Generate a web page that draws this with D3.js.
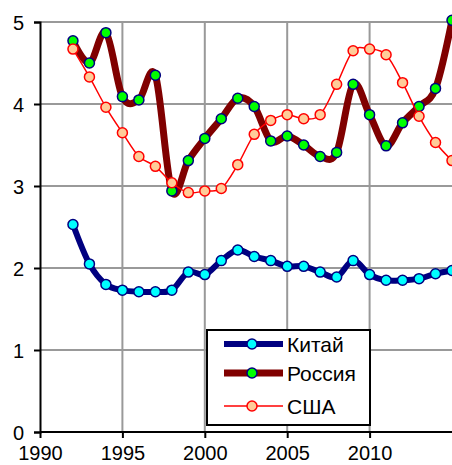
<!DOCTYPE html>
<meta charset="utf-8">
<style>
body { margin: 0; background: #fff; }
text { font-family: 'Liberation Sans', Arial, sans-serif; }
</style>
<body>
<svg width="452" height="465"></svg>
<script src="https://d3js.org/d3.v7.min.js"></script>
<script>
// years 1992..2015
var years = d3.range(1992, 2016);

var china = [2.53, 2.05, 1.80, 1.73, 1.71, 1.71, 1.73, 1.95, 1.92, 2.09, 2.22, 2.14,
             2.09, 2.02, 2.02, 1.95, 1.89, 2.09, 1.92, 1.85, 1.85, 1.87, 1.93, 1.97];
var russia = [4.77, 4.50, 4.87, 4.09, 4.05, 4.35, 2.94, 3.31, 3.58, 3.82, 4.07, 3.97,
              3.55, 3.61, 3.50, 3.36, 3.41, 4.24, 3.87, 3.49, 3.77, 3.97, 4.19, 5.02];
var usa = [4.67, 4.33, 3.96, 3.65, 3.36, 3.24, 3.04, 2.92, 2.94, 2.97, 3.26, 3.63,
           3.80, 3.87, 3.82, 3.87, 4.24, 4.65, 4.67, 4.60, 4.26, 3.85, 3.53, 3.31];

var seriesNames = ["Китай", "Россия", "США"];
var xTicks = [1990, 1995, 2000, 2005, 2010];
var yTicks = [0, 1, 2, 3, 4, 5];

var svg = d3.select("svg");

var x = d3.scaleLinear().domain([1990, 2015]).range([40, 452]);
var y = d3.scaleLinear().domain([0, 5]).range([432, 22]);

// grid
svg.append("g").selectAll("line.v")
    .data(xTicks.slice(1))
  .enter().append("line")
    .attr("x1", function(d) { return x(d); })
    .attr("x2", function(d) { return x(d); })
    .attr("y1", y(5)).attr("y2", y(0))
    .attr("stroke", "#999").attr("stroke-width", 2);

svg.append("g").selectAll("line.h")
    .data(yTicks.slice(1))
  .enter().append("line")
    .attr("x1", x(1990)).attr("x2", 452)
    .attr("y1", function(d) { return y(d); })
    .attr("y2", function(d) { return y(d); })
    .attr("stroke", "#999").attr("stroke-width", 2);

// axes
var xAxis = svg.append("g")
    .attr("transform", "translate(0," + y(0) + ")")
    .call(d3.axisBottom(x).tickValues(xTicks).tickSize(6).tickFormat(d3.format("d")));
var yAxis = svg.append("g")
    .attr("transform", "translate(" + x(1990) + ",0)")
    .call(d3.axisLeft(y).tickValues(yTicks).tickSize(6).tickFormat(d3.format("d")));

[xAxis, yAxis].forEach(function(a) {
  a.select(".domain").attr("stroke", "#000").attr("stroke-width", 2);
  a.selectAll(".tick line").attr("stroke", "#000").attr("stroke-width", 2);
  a.selectAll("text").attr("fill", "#000").style("font-size", "20px")
    .style("font-family", "'Liberation Sans', Arial, sans-serif");
});
xAxis.select(".domain").attr("d", "M" + x(1990) + ",0H452");
xAxis.selectAll("text").attr("dy", "0.95em");
yAxis.selectAll("text").attr("x", -16).attr("dy", "0.35em");

var styles = [
  {data: china, line: "#000080", width: 6, fill: "#00FFFF", stroke: "#000080", sw: 1.5},
  {data: russia, line: "#800000", width: 7, fill: "#00FF00", stroke: "#000080", sw: 1.5},
  {data: usa, line: "#FF0000", width: 1.5, fill: "#FFCC99", stroke: "#FF0000", sw: 1.5}
];

var line = d3.line()
    .x(function(d, i) { return x(years[i]); })
    .y(function(d) { return y(d); })
    .curve(d3.curveCardinal.tension(0));

var plot = svg.append("g");

styles.forEach(function(s) {
  plot.append("path")
    .datum(s.data)
    .attr("d", line)
    .attr("fill", "none")
    .attr("stroke", s.line)
    .attr("stroke-width", s.width)
    .attr("stroke-linejoin", "round");
  plot.append("g").selectAll("circle")
    .data(s.data)
  .enter().append("circle")
    .attr("cx", function(d, i) { return x(years[i]); })
    .attr("cy", function(d) { return y(d); })
    .attr("r", 5)
    .attr("fill", s.fill)
    .attr("stroke", s.stroke)
    .attr("stroke-width", s.sw);
});

// legend
var legend = svg.append("g");
legend.append("rect")
    .attr("x", 207).attr("y", 330)
    .attr("width", 163).attr("height", 95)
    .attr("fill", "#fff").attr("stroke", "#000").attr("stroke-width", 2);

var rowY = [344, 373, 406];
styles.forEach(function(s, i) {
  legend.append("line")
    .attr("x1", 224).attr("x2", 283)
    .attr("y1", rowY[i]).attr("y2", rowY[i])
    .attr("stroke", s.line).attr("stroke-width", s.width);
  legend.append("circle")
    .attr("cx", 252).attr("cy", rowY[i]).attr("r", 5)
    .attr("fill", s.fill).attr("stroke", s.stroke).attr("stroke-width", s.sw);
  legend.append("text")
    .attr("x", 287).attr("y", rowY[i])
    .attr("dy", "0.36em")
    .style("font-size", "21px")
    .text(seriesNames[i]);
});
</script>
</body>
